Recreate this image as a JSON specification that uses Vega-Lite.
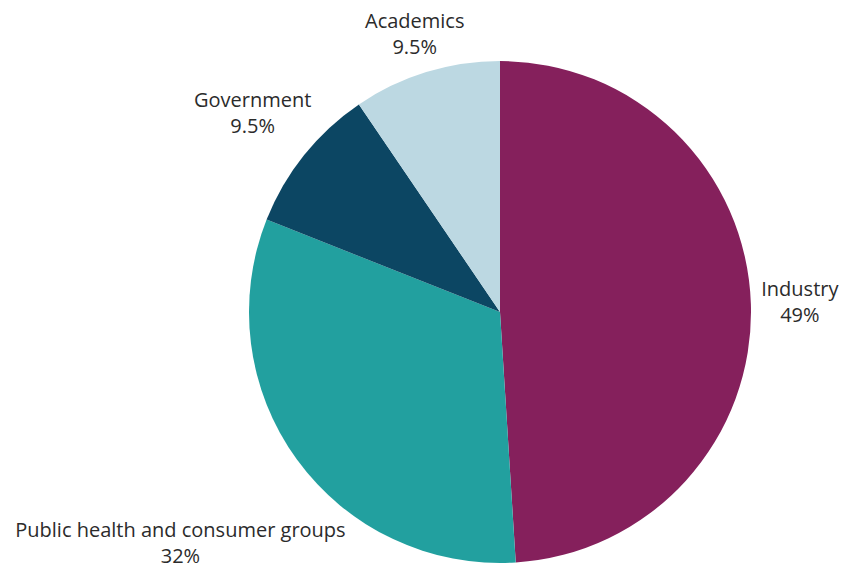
{
  "$schema": "https://vega.github.io/schema/vega-lite/v6.json",
  "width": 502,
  "height": 502,
  "autosize": "none",
  "padding": {"left": 249, "top": 61, "right": 91, "bottom": 5},
  "background": "white",
  "config": {"view": {"stroke": null}},
  "data": {
    "values": [
      {"category": "Industry", "share": 49, "label": "Industry\n49%"},
      {"category": "Public health and consumer groups", "share": 32, "label": "Public health and consumer groups\n32%"},
      {"category": "Government", "share": 9.5, "label": "Government\n9.5%"},
      {"category": "Academics", "share": 9.5, "label": "Academics\n9.5%"}
    ]
  },
  "layer": [
    {
      "mark": {"type": "arc"},
      "encoding": {
        "theta": {"field": "share", "type": "quantitative", "stack": true},
        "order": {"field": "share", "type": "quantitative", "sort": "descending"},
        "color": {
          "field": "category",
          "type": "nominal",
          "scale": {
            "domain": ["Industry", "Public health and consumer groups", "Government", "Academics"],
            "range": ["#85205C", "#22A09F", "#0C4663", "#BCD8E2"]
          },
          "legend": null
        }
      }
    },
    {
      "mark": {
        "type": "text",
        "font": "Open Sans",
        "fontSize": 20,
        "color": "#2b2b2b",
        "lineBreak": "\n",
        "lineHeight": 26,
        "align": "center",
        "baseline": "middle",
        "dy": -13,
        "radius": {"expr": "datum.category === 'Industry' ? 300 : datum.category === 'Government' ? 317 : datum.category === 'Academics' ? 290 : 395"}
      },
      "encoding": {
        "theta": {"field": "share", "type": "quantitative", "stack": true},
        "order": {"field": "share", "type": "quantitative", "sort": "descending"},
        "text": {"field": "label"}
      }
    }
  ]
}
